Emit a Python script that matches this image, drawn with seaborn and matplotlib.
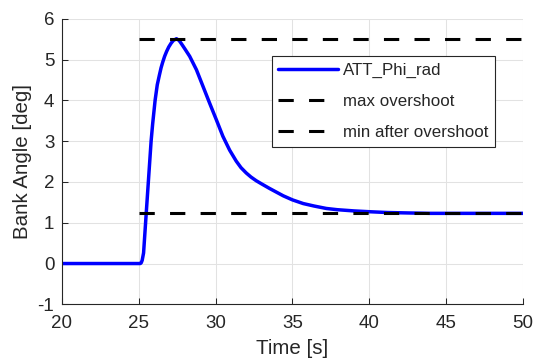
import matplotlib
matplotlib.use("Agg")
import matplotlib.pyplot as plt
import seaborn as sns

# bank angle response
time_s = [20.0, 25.0, 25.1, 25.16, 25.22, 25.31, 25.48, 25.62, 25.80, 25.9,
          26.06, 26.2, 26.34, 26.45, 26.55, 26.68, 26.81, 26.95, 27.1, 27.25,
          27.45, 27.62, 27.77, 28.0, 28.31, 28.75, 29.18, 29.61, 30.05, 30.47,
          30.91, 31.34, 31.65, 31.99, 32.3, 32.64, 33.0, 33.51, 34.4, 35.0,
          35.7, 36.4, 37.2, 37.9, 39.0, 40.0, 41.2, 42.5, 44.0, 50.0]
phi_deg = [0.0, 0.0, 0.0, 0.02, 0.08, 0.26, 1.22, 2.0, 3.0, 3.42,
           4.0, 4.38, 4.62, 4.80, 4.93, 5.08, 5.2, 5.31, 5.40, 5.47,
           5.51, 5.47, 5.39, 5.26, 5.08, 4.75, 4.34, 3.93, 3.52, 3.12,
           2.78, 2.51, 2.35, 2.22, 2.12, 2.03, 1.95, 1.84, 1.66, 1.56,
           1.47, 1.41, 1.35, 1.32, 1.29, 1.27, 1.25, 1.24, 1.23, 1.23]

ref_t = [25, 50]
max_overshoot = [5.51, 5.51]
min_after = [1.23, 1.23]

sns.set_theme(style="ticks")
plt.rcParams["font.family"] = ["Liberation Sans", "DejaVu Sans"]
plt.rcParams["axes.unicode_minus"] = False
dark = "#262626"

fig, ax = plt.subplots(figsize=(5.38, 3.61), dpi=100)
fig.subplots_adjust(left=0.1152, right=0.9721, bottom=0.157, top=0.948)

sns.lineplot(x=time_s, y=phi_deg, color=(0, 0, 1), lw=2.5, sort=False,
             estimator=None, label="ATT_Phi_rad", ax=ax)
sns.lineplot(x=ref_t, y=max_overshoot, color="black", lw=2.2,
             linestyle=(0, (5, 5)), label="max overshoot", ax=ax)
sns.lineplot(x=ref_t, y=min_after, color="black", lw=2.2,
             linestyle=(0, (5, 5)), label="min after overshoot", ax=ax)

ax.set_xlim(20, 50)
ax.set_ylim(-1, 6)
ax.set_xticks(range(20, 51, 5))
ax.set_yticks(range(-1, 7))
ax.grid(True, color="#e2e2e2", lw=0.75)
ax.set_axisbelow(True)

sns.despine(ax=ax)
for s in ["left", "bottom"]:
    ax.spines[s].set_color(dark)
    ax.spines[s].set_linewidth(0.8)

ax.tick_params(axis="both", direction="in", length=4.5, width=0.75,
               color=dark, labelcolor=dark, labelsize=13.5)
ax.tick_params(axis="x", pad=8)
ax.tick_params(axis="y", pad=5.5)

ax.set_xlabel("Time [s]", fontsize=14.8, color=dark, labelpad=5)
ax.set_ylabel("Bank Angle [deg]", fontsize=14.8, color=dark, labelpad=4)

leg = ax.legend(loc="upper right", bbox_to_anchor=(0.939, 0.869),
                fontsize=12.2, frameon=True, fancybox=False, framealpha=1,
                edgecolor=dark, borderpad=0.4, labelspacing=0.95,
                handlelength=3.5, handletextpad=0.3, borderaxespad=0)
leg.get_frame().set_linewidth(0.8)
for t in leg.get_texts():
    t.set_color(dark)

plt.savefig("out.png", dpi=100)
plt.close()
